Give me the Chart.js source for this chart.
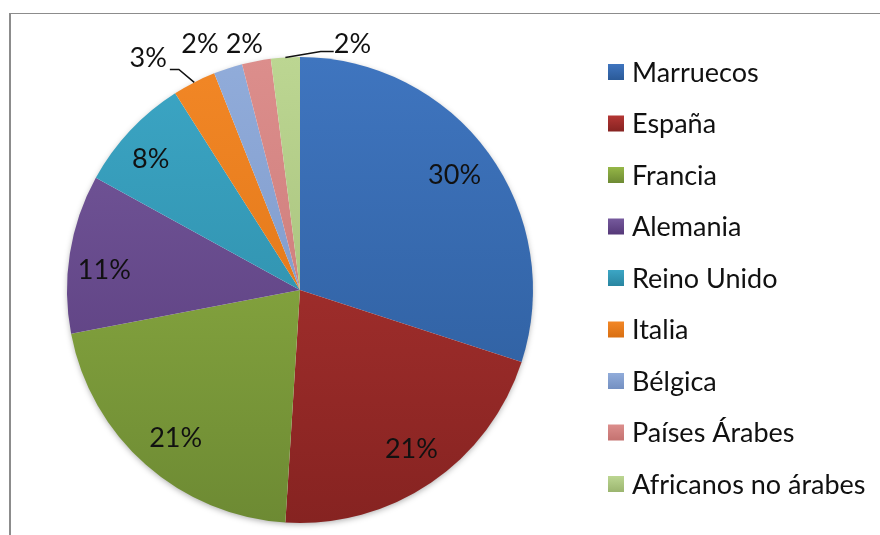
<!DOCTYPE html>
<html>
<head>
<meta charset="utf-8">
<script src="https://cdn.jsdelivr.net/npm/chart.js@4/dist/chart.umd.min.js"></script>
<style>
    html, body { margin: 0; padding: 0; background: #fff; }
    #wrap { position: relative; width: 880px; height: 535px; overflow: hidden; }
    #frame { position: absolute; left: 9px; top: 13px; width: 880px; height: 540px;
             border-top: 1px solid #8c8c8c; border-left: 2px solid #8c8c8c; }
    #chartOne { position: absolute; left: 0; top: 0; }
</style>
</head>
<body>
<div id="wrap">
    <div id="frame"></div>
    <canvas id="chartOne" width="880" height="535"></canvas>
</div>
<script>
var categories = ['Marruecos', 'España', 'Francia', 'Alemania', 'Reino Unido', 'Italia', 'Bélgica', 'Países Árabes', 'Africanos no árabes'];
var shares = [30, 21, 21, 11, 8, 3, 2, 2, 2];
var lightColors = ['#3f75bf', '#b43634', '#95b747', '#765a9d', '#3ca6c5', '#f28726', '#91acda', '#dc8e8c', '#bcd692'];
var darkColors = ['#2b5a98', '#862321', '#6d8a33', '#553878', '#2985a0', '#d96f12', '#7490c2', '#c47270', '#9bb56f'];

// small shifts for the labels sitting inside the slices (Excel "best fit")
var insideNudge = { 0: [0, -2], 1: [4, 1], 2: [2, 5], 3: [-7, 10], 4: [-10, 0] };

// outside labels for the thin slices: offset from the rim point, optional leader line side
var outsideLabels = {
    5: { dx: -46, dy: -24, line: 'right' },
    6: { dx: -28, dy: -24 },
    7: { dx: -12, dy: -17 },
    8: { dx: 67, dy: -13, line: 'left' }
};

var labelFont = '27px Lato';

function sliceGradient(context) {
    var i = context.dataIndex;
    var area = context.chart.chartArea;
    if (!area) return lightColors[i];
    var g = context.chart.ctx.createLinearGradient(0, area.top, 0, area.bottom);
    g.addColorStop(0, lightColors[i]);
    g.addColorStop(1, darkColors[i]);
    return g;
}

// soft shadow under the pie
var pieShadow = {
    id: 'pieShadow',
    beforeDatasetsDraw: function (chart) {
        var arc = chart.getDatasetMeta(0).data[0];
        if (!arc) return;
        var p = arc.getProps(['x', 'y', 'outerRadius'], true);
        var ctx = chart.ctx;
        ctx.save();
        ctx.shadowColor = 'rgba(0,0,0,0.35)';
        ctx.shadowBlur = 6;
        ctx.shadowOffsetX = 0;
        ctx.shadowOffsetY = 2;
        ctx.fillStyle = '#fff';
        ctx.beginPath();
        ctx.arc(p.x, p.y, p.outerRadius - 1, 0, Math.PI * 2);
        ctx.fill();
        ctx.restore();
    }
};

var percentLabels = {
    id: 'percentLabels',
    afterDatasetsDraw: function (chart) {
        var ctx = chart.ctx;
        var meta = chart.getDatasetMeta(0);
        var data = chart.data.datasets[0].data;
        var total = data.reduce(function (a, b) { return a + b; }, 0);
        ctx.save();
        ctx.font = labelFont;
        ctx.fillStyle = '#111';
        ctx.strokeStyle = '#111';
        ctx.lineWidth = 1.5;
        ctx.textAlign = 'center';
        ctx.textBaseline = 'middle';
        meta.data.forEach(function (arc, i) {
            var p = arc.getProps(['x', 'y', 'startAngle', 'endAngle', 'outerRadius'], true);
            var mid = (p.startAngle + p.endAngle) / 2;
            var txt = Math.round(data[i] / total * 100) + '%';
            var cfg = outsideLabels[i];
            if (!cfg) {
                var r = p.outerRadius * 0.82;
                var n = insideNudge[i] || [0, 0];
                ctx.fillText(txt, p.x + Math.cos(mid) * r + n[0], p.y + Math.sin(mid) * r + n[1]);
                return;
            }
            var ex = p.x + Math.cos(mid) * p.outerRadius;
            var ey = p.y + Math.sin(mid) * p.outerRadius;
            var lx = ex + cfg.dx, ly = ey + cfg.dy;
            ctx.fillText(txt, lx, ly);
            if (cfg.line) {
                var w = ctx.measureText(txt).width / 2;
                ctx.beginPath();
                if (cfg.line === 'right') {
                    ctx.moveTo(lx + w + 3, ly + 11);
                    ctx.lineTo(lx + w + 12, ly + 11);
                } else {
                    ctx.moveTo(lx - w, ly + 7);
                    ctx.lineTo(lx - w - 13, ly + 7);
                }
                ctx.lineTo(ex, ey);
                ctx.stroke();
            }
        });
        ctx.restore();
    }
};

var sideLegend = {
    id: 'sideLegend',
    afterDraw: function (chart) {
        var ctx = chart.ctx;
        ctx.save();
        ctx.font = labelFont;
        ctx.textAlign = 'left';
        ctx.textBaseline = 'middle';
        chart.data.labels.forEach(function (label, i) {
            var yc = 72 + i * 51.5;
            var g = ctx.createLinearGradient(0, yc - 8, 0, yc + 8);
            g.addColorStop(0, lightColors[i]);
            g.addColorStop(1, darkColors[i]);
            ctx.fillStyle = g;
            ctx.fillRect(608, yc - 8, 16, 16);
            ctx.fillStyle = '#111';
            ctx.fillText(label, 632, yc + 1);
        });
        ctx.restore();
    }
};

var chartOne = document.getElementById('chartOne');
var myChart = new Chart(chartOne, {
    type: 'pie',
    data: {
        labels: categories,
        datasets: [{
            data: shares,
            backgroundColor: sliceGradient,
            borderWidth: 0,
            hoverOffset: 0
        }]
    },
    options: {
        responsive: false,
        animation: false,
        layout: { padding: { left: 67, top: 57, right: 347, bottom: 12 } },
        plugins: {
            legend: { display: false },
            tooltip: { enabled: false }
        }
    },
    plugins: [pieShadow, percentLabels, sideLegend]
});
</script>
</body>
</html>
